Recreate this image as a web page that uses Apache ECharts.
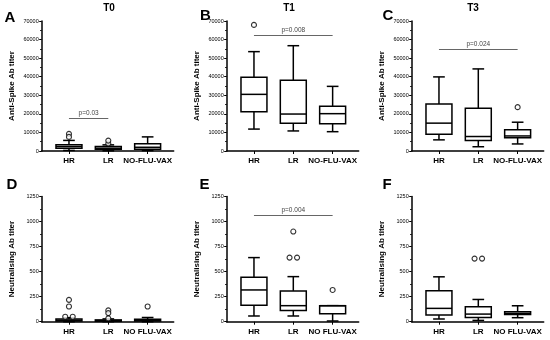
<!DOCTYPE html>
<html><head><meta charset="utf-8">
<script src="https://cdn.jsdelivr.net/npm/echarts@6/dist/echarts.min.js"></script>
<style>html,body{margin:0;padding:0;background:#fff}#c{width:550px;height:340px}</style>
</head><body><div id="c"></div><script>
// ---------- data ----------
const catsTop = ['HR', 'LR', 'NO-FLU-VAX'];
const catsBottom = ['HR', 'LR', 'NO FLU-VAX'];
const timeTitles = ['T0', 'T1', 'T3'];
const panelLetters = ['A', 'B', 'C', 'D', 'E', 'F'];
const spikeName = 'Anti-Spike Ab titer';
const neutName = 'Neutralising Ab titer';
const spikeMax = 70000, spikeStep = 10000;
const neutMax = 1250, neutStep = 250;

// [min, Q1, median, Q3, max] per category (HR, LR, NO-FLU-VAX)
const boxA = [[300, 1500, 2400, 3400, 5700], [100, 1000, 1500, 2400, 3300], [200, 900, 2000, 3900, 7600]];
const boxB = [[11800, 21200, 30500, 39700, 53500], [10800, 14900, 19900, 38100, 56700], [10400, 14700, 20100, 24100, 34800]];
const boxC = [[6000, 9000, 15000, 25300, 39900], [2300, 5600, 7800, 23000, 44200], [3800, 7200, 8100, 11400, 15500]];
const boxD = [[0, 8, 15, 28, 40], [0, 5, 10, 18, 28], [0, 8, 15, 25, 42]];
const boxE = [[57, 163, 317, 443, 640], [57, 113, 160, 307, 450], [7, 80, 160, 160, 160]];
const boxF = [[27, 66, 133, 308, 448], [13, 43, 76, 149, 222], [40, 73, 83, 100, 159]];

// outliers: [category index, value]
const outA = [[0, 9200], [0, 7600], [1, 4000], [1, 5600]];
const outB = [[0, 67900]];
const outC = [[2, 23600]];
const outD = [[0, 218], [0, 152], [0, 50], [0, 50], [1, 113], [1, 86], [1, 33], [2, 152]];
const outE = [[0, 1280], [0, 1280], [1, 900], [1, 640], [1, 640], [2, 317]];
const outF = [[1, 630], [1, 630]];

// significance bars: [from category, to category, value, label]
const sigA = [0, 1, 17500, 'p=0.03'];
const sigB = [0, 2, 62100, 'p=0.008'];
const sigC = [0, 2, 54700, 'p=0.024'];
const sigE = [0, 2, 1063, 'p=0.004'];

// ---------- layout ----------
const FONT = '"Liberation Sans", Arial, Helvetica, sans-serif';
const colX = [41.7, 226.7, 411.7];
const rowTop = [21, 196.5];
const rowH = [130, 125.2];
const axisLen = 132;
const innerOff = 7.6, innerW = 118;
const titleX = [109, 289, 473];
const letterPos = [[10, 18], [205.5, 16], [388, 16], [12, 185], [204.5, 184.5], [387, 185]];

const panels = [
  {boxes: boxA, out: outA, sig: sigA, cats: catsTop, max: spikeMax, step: spikeStep, name: spikeName},
  {boxes: boxB, out: outB, sig: sigB, cats: catsTop, max: spikeMax, step: spikeStep, name: spikeName},
  {boxes: boxC, out: outC, sig: sigC, cats: catsTop, max: spikeMax, step: spikeStep, name: spikeName},
  {boxes: boxD, out: outD, sig: null, cats: catsBottom, max: neutMax, step: neutStep, name: neutName},
  {boxes: boxE, out: outE, sig: sigE, cats: catsBottom, max: neutMax, step: neutStep, name: neutName},
  {boxes: boxF, out: outF, sig: null, cats: catsBottom, max: neutMax, step: neutStep, name: neutName}
];

const LW = 1.5;
function renderBox(params, api) {
  const x = api.value(0);
  const lo = api.coord([x, api.value(1)]);
  const q1 = api.coord([x, api.value(2)]);
  const md = api.coord([x, api.value(3)]);
  const q3 = api.coord([x, api.value(4)]);
  const hi = api.coord([x, api.value(5)]);
  const bw = api.size([1, 0])[0] * 0.66;
  const cw = bw * 0.45;
  const cx = lo[0];
  const ls = {stroke: '#000', lineWidth: LW, fill: null};
  return {type: 'group', children: [
    {type: 'line', shape: {x1: cx, y1: hi[1], x2: cx, y2: q3[1]}, style: ls},
    {type: 'line', shape: {x1: cx, y1: q1[1], x2: cx, y2: lo[1]}, style: ls},
    {type: 'line', shape: {x1: cx - cw / 2, y1: hi[1], x2: cx + cw / 2, y2: hi[1]}, style: ls},
    {type: 'line', shape: {x1: cx - cw / 2, y1: lo[1], x2: cx + cw / 2, y2: lo[1]}, style: ls},
    {type: 'rect', shape: {x: cx - bw / 2, y: q3[1], width: bw, height: q1[1] - q3[1]}, style: {stroke: '#000', lineWidth: LW, fill: '#fff'}},
    {type: 'line', shape: {x1: cx - bw / 2, y1: md[1], x2: cx + bw / 2, y2: md[1]}, style: ls}
  ]};
}

// spread outliers that share the same value side by side
function outlierItems(out) {
  const groups = {};
  out.forEach(o => { const k = o[0] + '_' + o[1]; (groups[k] = groups[k] || []).push(o); });
  const items = [];
  Object.values(groups).forEach(g => {
    g.forEach((o, k) => {
      items.push({value: [o[0], o[1]], symbolOffset: [(k - (g.length - 1) / 2) * 7.5, 0]});
    });
  });
  return items;
}

const grid = [], xAxis = [], yAxis = [], series = [], graphic = [];
panels.forEach((p, i) => {
  const col = i % 3, row = Math.floor(i / 3);
  const L = colX[col], T = rowTop[row], H = rowH[row];
  const gw = 2 * i, gn = 2 * i + 1;
  grid.push({left: L, top: T, width: axisLen, height: H});
  grid.push({left: L + innerOff, top: T, width: innerW, height: H});
  xAxis.push({gridIndex: gw, type: 'value', min: 0, max: 1,
    axisLine: {show: true, lineStyle: {color: '#000', width: LW}},
    axisTick: {show: false}, axisLabel: {show: false}, splitLine: {show: false}});
  xAxis.push({gridIndex: gn, type: 'category', data: p.cats,
    axisLine: {show: false},
    axisTick: {show: true, alignWithLabel: true, length: 3, lineStyle: {color: '#000', width: 1}},
    axisLabel: {interval: 0, fontSize: 8, fontWeight: 'bold', color: '#000', margin: 6, fontFamily: FONT}});
  yAxis.push({gridIndex: gw, type: 'value', min: 0, max: p.max, interval: p.step,
    axisLine: {show: true, lineStyle: {color: '#000', width: LW}},
    axisTick: {show: true, length: 2.5, lineStyle: {color: '#000', width: 1}},
    minorTick: {show: true, splitNumber: 2, length: 1.5, lineStyle: {color: '#000', width: 1}},
    splitLine: {show: false},
    axisLabel: {fontSize: 5.5, color: '#000', margin: 3, fontFamily: FONT, formatter: v => String(v)},
    name: p.name, nameLocation: 'middle', nameGap: 26,
    nameTextStyle: {fontSize: 8, fontWeight: 'bold', color: '#000', fontFamily: FONT}});
  yAxis.push({gridIndex: gn, type: 'value', min: 0, max: p.max, show: false});

  series.push({type: 'custom', xAxisIndex: gn, yAxisIndex: gn, renderItem: renderBox,
    encode: {x: 0, y: [1, 2, 3, 4, 5]}, z: 3,
    data: p.boxes.map((b, k) => [k].concat(b))});
  const sc = {type: 'scatter', xAxisIndex: gn, yAxisIndex: gn, symbol: 'circle', symbolSize: 5,
    itemStyle: {color: '#fff', borderColor: '#000', borderWidth: 1.1}, z: 4, silent: true,
    data: outlierItems(p.out)};
  if (p.sig) {
    sc.markLine = {silent: true, symbol: 'none', animation: false,
      lineStyle: {color: '#666', width: 1, type: 'solid'},
      label: {show: true, position: 'middle', formatter: p.sig[3], fontSize: 6.5, color: '#444', distance: 1.5, fontFamily: FONT},
      data: [[{coord: [p.sig[0], p.sig[2]]}, {coord: [p.sig[1], p.sig[2]]}]]};
  }
  series.push(sc);

  graphic.push({type: 'text', x: letterPos[i][0], y: letterPos[i][1],
    style: {text: panelLetters[i], font: 'bold 15px ' + FONT, fill: '#000', textAlign: 'center', textVerticalAlign: 'middle'}});
  if (row === 0) {
    graphic.push({type: 'text', x: titleX[col], y: 8,
      style: {text: timeTitles[col], font: 'bold 10px ' + FONT, fill: '#000', textAlign: 'center', textVerticalAlign: 'middle'}});
  }
});

const chart = echarts.init(document.getElementById('c'), null, {renderer: 'canvas'});
chart.setOption({backgroundColor: '#fff', animation: false, grid, xAxis, yAxis, series, graphic});
</script></body></html>
